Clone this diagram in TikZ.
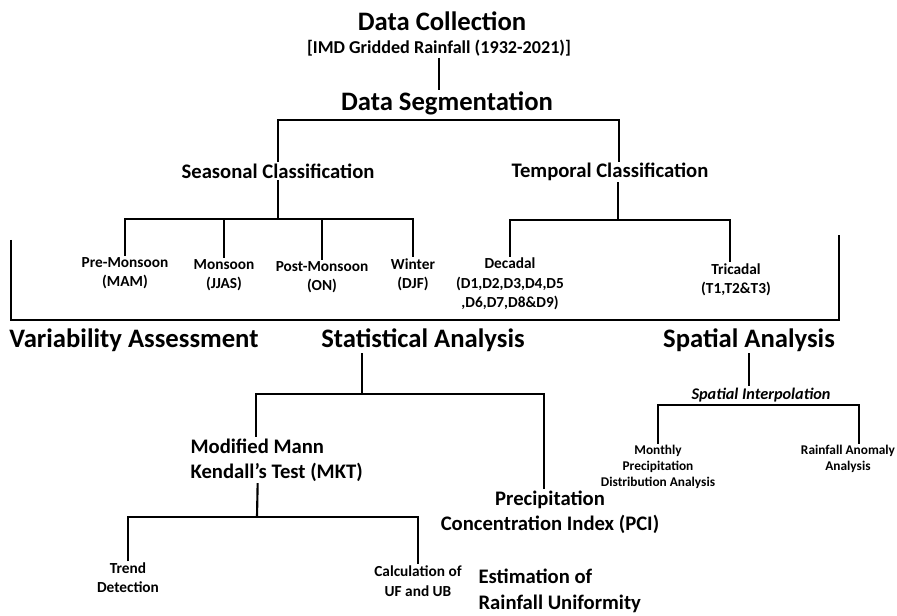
\documentclass[tikz,border=0pt]{standalone}
\usepackage{fontspec}
\setmainfont{Carlito}
\usetikzlibrary{calc,positioning}

\tikzset{
	link/.style={line width=1.6pt},
	bracket/.style={line width=1pt},
	bighead/.style={font=\bfseries\fontsize{20}{24}\selectfont, inner sep=1pt},
	midhead/.style={font=\bfseries\fontsize{15.5}{19}\selectfont, align=center, inner sep=1pt},
	leaf/.style={font=\bfseries\fontsize{11.5}{14.5}\selectfont, align=center, inner sep=1pt},
	tinyleaf/.style={font=\bfseries\fontsize{10}{12}\selectfont, align=center, inner sep=1pt}
}

\begin{document}
\begin{tikzpicture}[x=0.75pt,y=-0.75pt]
		\useasboundingbox (0,0) rectangle (897,616);

		\node[bighead] (coll) at (442,21) {Data Collection};
		\node[leaf, font=\bfseries\fontsize{13.6}{16}\selectfont] (imd) at (439,48) {[IMD Gridded Rainfall (1932-2021)]};
		\node[bighead] (seg) at (447,103) {Data Segmentation};

		\node[midhead] (seas) at (278,171) {Seasonal Classification};
		\node[midhead] (temp) at (610,172) {Temporal Classification};

		\node[leaf] (pre) at (125,273) {Pre-Monsoon\\(MAM)};
		\node[leaf] (mon) at (224,275) {Monsoon\\(JJAS)};
		\node[leaf] (post) at (322,277) {Post-Monsoon\\(ON)};
		\node[leaf] (win) at (413,275) {Winter\\(DJF)};
		\node[leaf] (dec) at (510,284) {Decadal\\(D1,D2,D3,D4,D5\\,D6,D7,D8\&D9)};
		\node[leaf] (tri) at (736,280) {Tricadal\\(T1,T2\&T3)};

		\node[bighead] (var) at (134,340) {Variability Assessment};
		\node[bighead] (stat) at (423,340) {Statistical Analysis};
		\node[bighead] (spa) at (749,340) {Spatial Analysis};

		\node[leaf, font=\bfseries\itshape\fontsize{12.2}{14}\selectfont] (interp) at (761,395) {Spatial Interpolation};
		\node[tinyleaf] (month) at (658,467) {Monthly\\Precipitation\\Distribution Analysis};
		\node[tinyleaf] (anom) at (848,459) {Rainfall Anomaly\\Analysis};

		\node[midhead, align=left, anchor=west] (mkt) at (189,460) {Modified Mann\\Kendall’s Test (MKT)};
		\node[midhead] (pci) at (550,512) {Precipitation\\Concentration Index (PCI)};
		\node[midhead, align=left, anchor=west] (est) at (477,591) {Estimation of\\Rainfall Uniformity};

		\node[leaf] (trend) at (128,578) {Trend\\Detection};
		\node[leaf] (calc) at (418,581) {Calculation of\\UF and UB};

		\coordinate (segbar) at (447,120);
		\coordinate (seasbar) at (278,219);
		\coordinate (tempbar) at (618,220);
		\coordinate (brL) at (11,240);
		\coordinate (brR) at (839,235);
		\coordinate (brB) at (0,320);
		\coordinate (statbar) at (362,394);
		\coordinate (mktbar) at (257,517);
		\coordinate (interpbar) at (760,405);

		\draw[link] (imd.south) -- (imd.south |- seg.north);
		\draw[link] (seas.north) |- (segbar) -| ($(temp.north)+(9,0)$);

		\draw[link] (seas.south) -- (seasbar);
		\draw[link] (pre.north) |- (seasbar) -| (win.north);
		\foreach \n in {mon,post}
			\draw[link] (\n.north) -- (\n.north |- seasbar);

		\draw[link] (temp.south -| tempbar) -- (tempbar);
		\draw[link] (dec.north) |- (tempbar) -| ($(tri.north)+(-6,0)$);

		\draw[bracket] (brL) -- (brL |- brB) -- (brR |- brB) -- (brR);

		\draw[link] (stat.south -| statbar) -- (statbar);
		\draw[link] ($(mkt.north)+(-21,0)$) |- (statbar) -| ($(pci.north)+(-6,0)$);
		\draw[link] ($(mkt.south)+(-19,0)$) -- (mktbar);
		\draw[link] (trend.north) |- (mktbar) -| (calc.north);
		\draw[link] ($(pci.south)+(-7,0)$) -- ($(pci.south)+(-7,0)$ |- est.north);

		\draw[link] (spa.south) -- (spa.south |- interp.north);
		\draw[link] (month.north) |- (interpbar) -| ($(anom.north)+(11,0)$);
	\end{tikzpicture}
\end{document}
